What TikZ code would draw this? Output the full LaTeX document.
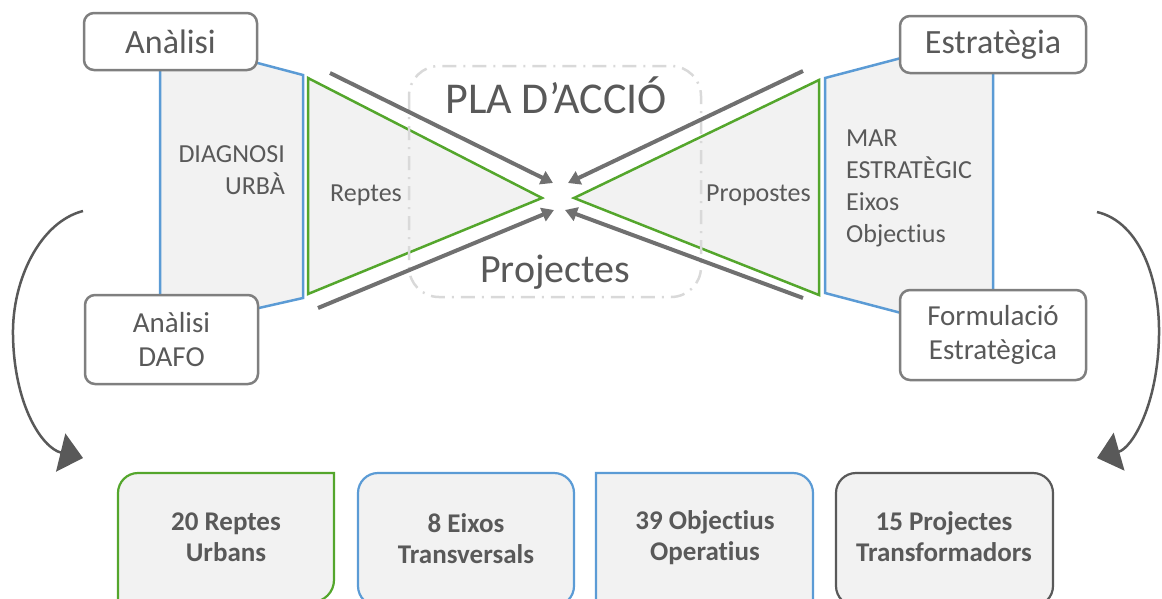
\documentclass[tikz,border=0pt]{standalone}
\usepackage{fontspec}
\setmainfont{Carlito}[RawFeature={-liga;-clig;-dlig}]
\usetikzlibrary{arrows.meta}
\definecolor{cblue}{RGB}{91,155,213}
\definecolor{cgreen}{RGB}{84,166,44}
\definecolor{cfill}{RGB}{242,242,242}
\definecolor{cborder}{RGB}{127,127,127}
\definecolor{ctext}{RGB}{89,89,89}
\definecolor{carrow}{RGB}{112,112,112}
\definecolor{cdash}{RGB}{217,217,217}
\definecolor{cdark}{RGB}{89,89,89}
\tikzset{
  topbox/.style={draw=cborder, line width=2.5pt, fill=white, rounded corners=10pt,
    minimum width=173pt, minimum height=57pt, inner sep=0pt, text=ctext,
    font=\fontsize{34}{40}\selectfont},
  twobox/.style={topbox, minimum height=89pt, align=center,
    font=\fontsize{29}{34}\selectfont},
  lbl/.style={inner sep=0pt, text=ctext, font=\fontsize{26}{31.7}\selectfont},
  btxt/.style={inner sep=0pt, text=ctext, align=center,
    font=\fontsize{27}{31}\selectfont\bfseries},
  bluepoly/.style={draw=cblue, line width=2.5pt, fill=cfill, line join=miter},
  greentri/.style={draw=cgreen, line width=2.5pt, fill=cfill, line join=miter},
  flowarrow/.style={draw=carrow, line width=4pt, -{Triangle[length=12pt,width=14pt]}},
  looparrow/.style={draw=cdark, line width=2.5pt, -{Triangle[length=23pt,width=39pt]}},
  bottombox/.style={line width=2.2pt, fill=cfill},
}
\begin{document}
\begin{tikzpicture}[x=1pt,y=-1pt]
\useasboundingbox (0,0) rectangle (1162,598);
\clip (0,0) rectangle (1162,598);
% blue panels
\path[bluepoly] (160,50) -- (250,61) -- (303,75) -- (303,298) -- (250,310) -- (160,320) -- cycle;
\path[bluepoly] (993,40) -- (905,57) -- (825,78) -- (825,293) -- (905,314) -- (993,300) -- cycle;
% green triangles
\path[greentri] (308,78) -- (542,198) -- (308,294) -- cycle;
\path[greentri] (819,80) -- (574,198) -- (819,295) -- cycle;
% dashed frame
\draw[cdash, line width=2.5pt, rounded corners=30pt, dash pattern=on 14pt off 7pt on 2pt off 7pt]
  (409,66) rectangle (701,297);
% arrow coordinates
\coordinate (a1s) at (330,73);  \coordinate (a1e) at (553,183);
\coordinate (a2s) at (318,308); \coordinate (a2e) at (554,210);
\coordinate (a3s) at (803,71);  \coordinate (a3e) at (568,183);
\coordinate (a4s) at (803,298); \coordinate (a4e) at (565,210);
\draw[flowarrow] (a1s) -- (a1e);
\draw[flowarrow] (a2s) -- (a2e);
\draw[flowarrow] (a3s) -- (a3e);
\draw[flowarrow] (a4s) -- (a4e);
% boxes
\node[topbox] (analisi) at (170.5,41.5) {Anàlisi};
\node[topbox, minimum width=186pt] (estrategia) at (993,44.5) {Estratègia};
\node[twobox] (dafo) at (171.5,339.5) {Anàlisi\\DAFO};
\node[twobox, minimum width=186pt, minimum height=90pt] (formulacio) at (993,335) {Formulació\\Estratègica};
% labels
\node[lbl, anchor=base east, align=right] (diag) at (285,194) {DIAGNOSI\\URBÀ};
\node[lbl, anchor=base west] (reptes) at (330,201) {Reptes};
\node[lbl, anchor=base west] (propostes) at (706,201) {Propostes};
\node[lbl, anchor=base west, align=left] (mar) at (846,242) {MAR\\ESTRATÈGIC\\Eixos\\Objectius};
\node[inner sep=0pt, text=ctext, font=\fontsize{44}{50}\selectfont, anchor=base] (pla) at (556,113) {PLA D’ACCIÓ};
\node[inner sep=0pt, text=ctext, font=\fontsize{40}{46}\selectfont, anchor=base] (proj) at (555,282) {Projectes};
% loop arrows
\coordinate (l1s) at (83,211); \coordinate (l1m) at (13,335); \coordinate (l1e) at (83,458);
\coordinate (r1s) at (1097,212); \coordinate (r1m) at (1159,335); \coordinate (r1e) at (1097,458);
\draw[looparrow] (l1s) .. controls (40,222) and (12,280) .. (l1m) .. controls (14,405) and (42,448) .. (l1e);
\draw[looparrow] (r1s) .. controls (1140,222) and (1160,280) .. (r1m) .. controls (1158,405) and (1132,448) .. (r1e);
% bottom boxes
\draw[bottombox, draw=cgreen] (118,604) -- (118,493) arc[start angle=180,end angle=270,radius=20] -- (334,473) -- (334,580) arc[start angle=0,end angle=90,radius=22] -- cycle;
\draw[bottombox, draw=cblue, rounded corners=20pt] (358,473) rectangle (574,606);
\draw[bottombox, draw=cblue] (596,606) -- (596,473) -- (793,473) arc[start angle=270,end angle=360,radius=20] -- (813,606) -- cycle;
\draw[bottombox, draw=cdark, rounded corners=20pt] (836,473) rectangle (1053,606);
\node[btxt, anchor=base] (b1) at (226,561) {20 Reptes\\Urbans};
\node[btxt, anchor=base] (b2) at (466,563) {8 Eixos\\Transversals};
\node[btxt, anchor=base] (b3) at (705,560) {39 Objectius\\Operatius};
\node[btxt, anchor=base] (b4) at (944,561) {15 Projectes\\Transformadors};
\end{tikzpicture}
\end{document}
